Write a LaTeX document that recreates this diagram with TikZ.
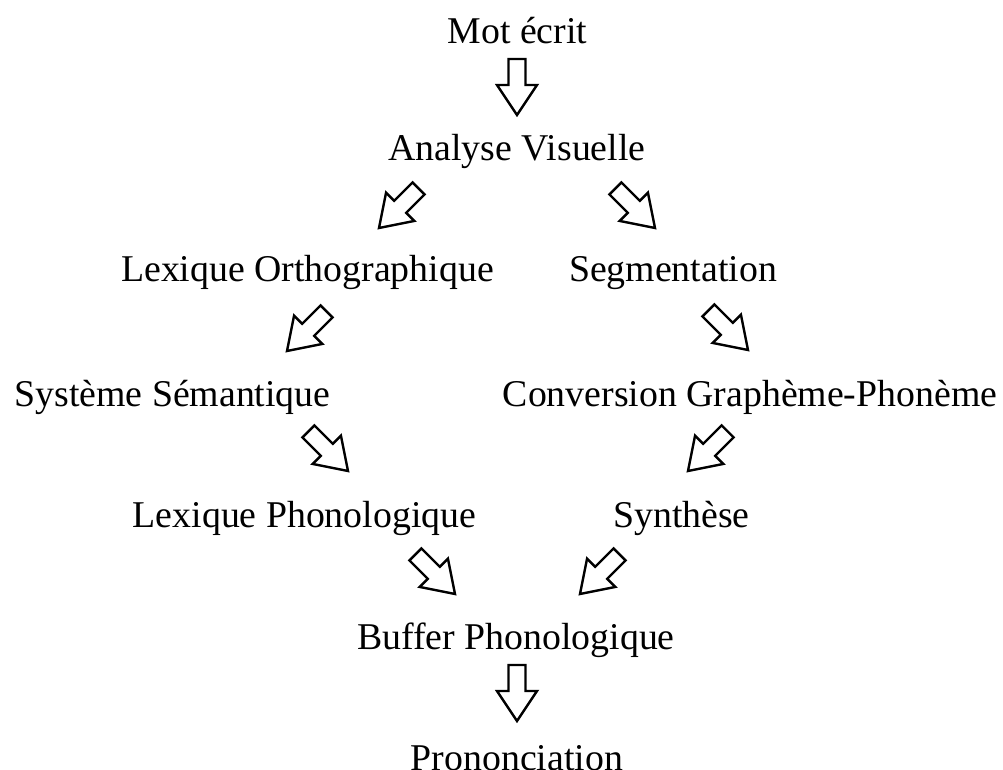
\documentclass[tikz,border=0pt]{standalone}
\usepackage{fontspec}
\setmainfont{Liberation Serif}
\usepackage{tikz}
\usetikzlibrary{arrows}

\tikzset{
  lbl/.style={anchor=base, inner sep=0pt, font=\fontsize{37.8}{45}\selectfont},
  pics/hollow/.style={code={
    \draw[line width=2.4pt, line join=miter, fill=white]
      (0,0) -- (20,-30) -- (8.5,-30) -- (8.5,-56) -- (-8.5,-56) -- (-8.5,-30) -- (-20,-30) -- cycle;
  }}
}

\begin{document}
\begin{tikzpicture}[x=1pt,y=-1pt]
  \useasboundingbox[fill=white] (0,0) rectangle (1003,769);

  \node[lbl] (mot)  at (517.5,43)  {Mot écrit};
  \node[lbl] (ana)  at (517,160)   {Analyse Visuelle};
  \node[lbl] (lexo) at (307.5,281) {Lexique Orthographique};
  \node[lbl] (seg)  at (673,281)   {Segmentation};
  \node[lbl] (sem)  at (172.5,406) {Système Sémantique};
  \node[lbl] (cgp)  at (750,406)   {Conversion Graphème-Phonème};
  \node[lbl] (lexp) at (304.5,527) {Lexique Phonologique};
  \node[lbl] (syn)  at (681.5,527) {Synthèse};
  \node[lbl] (buf)  at (516,649)   {Buffer Phonologique};
  \node[lbl] (pron) at (517,770)   {Prononciation};

  % block arrows: tip x / tip y / rotation
  \foreach \x/\y/\r in {517/115/0, 379/228/-45, 655/228/45, 287/351/-45, 748/350/45,
                        348/471/45, 688/471/-45, 455/594/45, 580/594/-45, 517/721/0}
    \pic[rotate=\r] at (\x,\y) {hollow};
\end{tikzpicture}
\end{document}
